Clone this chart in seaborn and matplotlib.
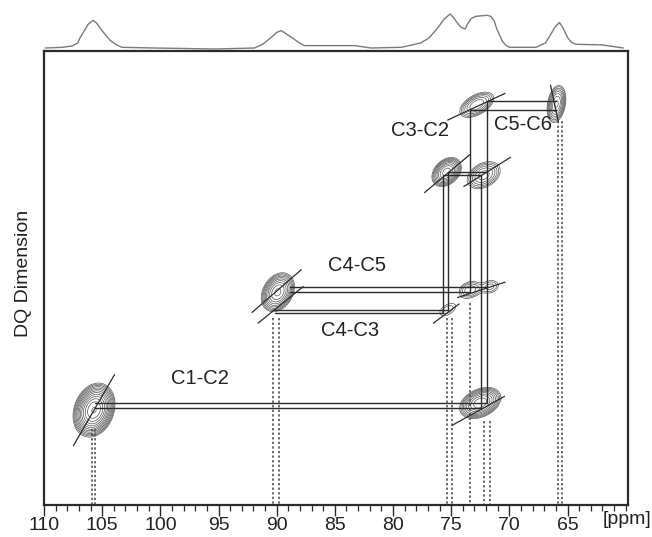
import numpy as np
import pandas as pd
import seaborn as sns
import matplotlib.pyplot as plt
from matplotlib.ticker import MultipleLocator

# 1D projection (ppm, relative intensity)
proj_ppm = [109.9, 108.4, 107.6, 107.1, 106.9, 106.5, 106.2, 105.8, 105.5, 105.1,
            104.7, 104.3, 103.8, 103.3, 100.5, 95.3, 91.9, 91.2, 90.8, 90.3,
            90.0, 89.6, 89.2, 88.5, 88.0, 87.6, 83.3, 81.9, 79.3, 77.6,
            76.9, 76.3, 75.6, 75.1, 74.8, 74.5, 74.2, 73.8, 73.6, 73.3,
            72.9, 72.3, 71.9, 71.6, 71.3, 71.1, 70.6, 70.3, 70.0, 67.7,
            66.9, 66.6, 66.1, 65.7, 65.4, 65.0, 64.7, 64.3, 62.0, 60.2]
proj_int = [0.0, 0.02, 0.06, 0.15, 0.3, 0.53, 0.7, 0.81, 0.74, 0.55,
            0.38, 0.22, 0.1, 0.02, 0.0, -0.03, 0.0, 0.11, 0.22, 0.36,
            0.46, 0.51, 0.42, 0.26, 0.14, 0.07, 0.07, 0.0, 0.02, 0.15,
            0.3, 0.53, 0.85, 1.0, 0.9, 0.75, 0.62, 0.56, 0.7, 0.86,
            0.93, 0.95, 0.96, 0.93, 0.8, 0.58, 0.2, 0.08, 0.02, 0.02,
            0.15, 0.31, 0.6, 0.75, 0.6, 0.31, 0.18, 0.11, 0.09, 0.0]

# 2D cross peaks: SQ shift, DQ shift, outer semi-axes (px), tilt (deg), amplitude
peak_sq = [105.7, 72.5, 89.9, 73.4, 71.6, 75.3, 75.4, 72.2, 72.8, 65.95]
peak_dq = [178.1, 177.2, 163.2, 162.9, 162.5, 165.4, 148.0, 148.4, 139.5, 139.4]
peak_major = [28, 22, 21, 11, 8, 9, 17, 18, 19, 19]
peak_minor = [20, 14, 15, 8, 6, 5, 12, 12, 10, 9]
peak_tilt = [70, 25, 60, 20, 20, 30, 45, 30, 30, 80]
peak_amp = [1.0, 0.45, 0.5, 0.13, 0.09, 0.08, 0.42, 0.2, 0.22, 0.3]

# short slanted guide lines through the peaks
diag_sq = [105.7, 72.67, 90.0, 89.66, 72.41, 75.43, 75.34, 71.9, 72.84, 66.12]
diag_dq = [178.1, 178.2, 163.05, 164.8, 162.9, 165.9, 148.2, 147.98, 139.75, 139.37]
diag_angle = [60, 29, 41, 39, 18, 37, 40, 32, 25, -78]
diag_len = [82, 60, 65, 58, 50, 32, 59, 55, 63, 38]

# connectivity walk (double lines), each path as SQ / DQ lists
walk_sq = [
    [66.03, 71.90, 71.90, 105.6],
    [66.03, 73.36, 73.36, 88.88],
    [88.88, 71.90],
    [105.6, 72.41, 72.41, 75.69, 75.69, 90.17],
    [71.90, 75.26, 75.26, 90.17],
]
walk_dq = [
    [138.99, 138.99, 177.22, 177.22],
    [140.13, 140.13, 163.17, 163.17],
    [162.54, 162.54],
    [177.85, 177.85, 148.36, 148.36, 165.83, 165.83],
    [147.98, 147.98, 165.45, 165.45],
]

# dotted drop lines to the SQ axis
drop_sq = [105.9, 105.6, 90.3, 89.8, 75.4, 74.9, 73.4, 72.2, 71.7, 65.8, 65.5]
drop_start = [180.5, 180.5, 166.5, 166.5, 166.5, 166.5, 164.5, 179.5, 179.5, 141.5, 141.5]

labels = ["C1-C2", "C4-C5", "C4-C3", "C3-C2", "C5-C6"]
label_sq = [96.6, 83.1, 83.7, 77.7, 68.8]
label_dq = [174.1, 159.8, 168.0, 142.7, 142.0]

X_LIM = (110, 59.8)
DQ_LIM = (190.1, 132.7)
PX_SQ = 11.6   # px per ppm, SQ axis
PX_DQ = 7.9    # px per ppm, DQ axis
INK = "#2b2b2b"

sns.set_style("white")
plt.rcParams["font.family"] = ["Liberation Sans", "DejaVu Sans"]

fig = plt.figure(figsize=(6.52, 5.37), dpi=100)
ax = fig.add_axes([44 / 652, 32 / 537, 584 / 652, 454 / 537])
ax_top = fig.add_axes([44 / 652, 487 / 537, 584 / 652, 42 / 537])

# top projection
proj = pd.DataFrame({"ppm": proj_ppm, "intensity": proj_int})
sns.lineplot(data=proj, x="ppm", y="intensity", ax=ax_top, color="#7a7a7a",
             linewidth=1.0, sort=False, estimator=None)
ax_top.set_xlim(*X_LIM)
ax_top.set_ylim(-0.059, 1.176)
ax_top.axis("off")

# contour field from the peak list
xg = np.linspace(X_LIM[1], X_LIM[0], 700)
yg = np.linspace(DQ_LIM[1], DQ_LIM[0], 600)
X, Y = np.meshgrid(xg, yg)
Z = np.zeros_like(X)
base = 0.05
for x0, y0, ra, rb, ang, amp in zip(peak_sq, peak_dq, peak_major, peak_minor, peak_tilt, peak_amp):
    k = np.sqrt(2 * np.log(amp / base * 1.05))
    sa, sb = ra / k, rb / k
    u = -(X - x0) * PX_SQ
    v = -(Y - y0) * PX_DQ
    t = np.deg2rad(ang)
    a = u * np.cos(t) + v * np.sin(t)
    b = -u * np.sin(t) + v * np.cos(t)
    Z += amp * np.exp(-0.5 * ((a / sa) ** 2 + (b / sb) ** 2))
levels = base * 1.28 ** np.arange(13)
ax.contour(X, Y, Z, levels=levels, colors="#555555", linewidths=0.5)

# slanted guide lines
for x0, y0, ang, length in zip(diag_sq, diag_dq, diag_angle, diag_len):
    t = np.deg2rad(ang)
    dx = length / 2 * np.cos(t) / PX_SQ
    dy = length / 2 * np.sin(t) / PX_DQ
    ax.plot([x0 + dx, x0 - dx], [y0 + dy, y0 - dy], color=INK, lw=0.9)

# connectivity walk
for xs, ys in zip(walk_sq, walk_dq):
    ax.plot(xs, ys, color=INK, lw=1.0)

# dotted drop lines
for x0, y0 in zip(drop_sq, drop_start):
    ax.plot([x0, x0], [y0, DQ_LIM[0]], color="#444444", lw=1.1, ls=(0, (1.5, 1.5)))

for txt, x0, y0 in zip(labels, label_sq, label_dq):
    ax.text(x0, y0, txt, fontsize=14.5, ha="center", va="center", color="#222222")

ax.set_xlim(*X_LIM)
ax.set_ylim(*DQ_LIM)
ax.set_xticks(list(range(65, 111, 5)))
ax.xaxis.set_minor_locator(MultipleLocator(1))
ax.set_yticks([])
ax.tick_params(axis="x", which="major", direction="out", length=8, width=1.0,
               labelsize=14, pad=1, bottom=True, color=INK, labelcolor="#222222")
ax.tick_params(axis="x", which="minor", direction="out", length=4, width=0.9,
               bottom=True, color=INK)
for sp in ax.spines.values():
    sp.set_color(INK)
    sp.set_linewidth(1.6)
ax.set_xlabel("")
ax.set_ylabel("")

fig.text(24 / 652, 1 - 273 / 537, "DQ Dimension", rotation=90, fontsize=14,
         ha="center", va="center", color="#222222")
fig.text(627 / 652, 1 - 520 / 537, "[ppm]", fontsize=14, ha="center", va="center",
         color="#222222")

fig.savefig("out.png", dpi=100)
